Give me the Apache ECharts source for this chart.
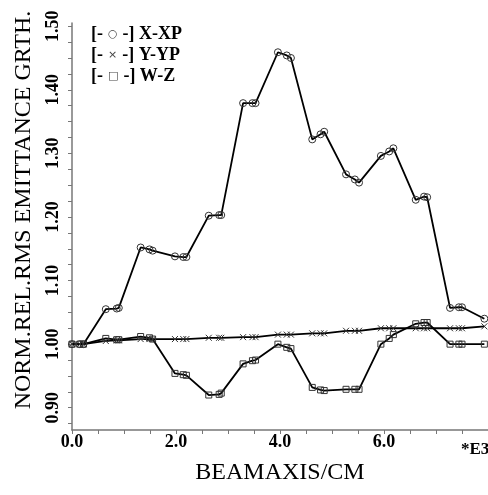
<!DOCTYPE html>
<html>
<head>
<meta charset="utf-8">
<script src="https://cdn.jsdelivr.net/npm/echarts@6/dist/echarts.min.js"></script>
<style>
    html, body { margin: 0; padding: 0; background: #fff; }
    #chart { width: 488px; height: 495px; }
</style>
</head>
<body>
<div id="chart"></div>
<script>
// beam axis positions (units of 1e3 cm)
const beamPos = [0, 0.15, 0.22, 0.65, 0.86, 0.9, 1.32, 1.49, 1.55, 1.98, 2.14, 2.2,
    2.63, 2.83, 2.87, 3.29, 3.47, 3.53, 3.96, 4.13, 4.21, 4.62, 4.78, 4.85,
    5.27, 5.44, 5.52, 5.94, 6.1, 6.18, 6.61, 6.77, 6.83, 7.27, 7.44, 7.5, 7.93];

const xxp = [1.0, 1.0, 1.0, 1.055, 1.056, 1.057, 1.152, 1.149, 1.147, 1.138, 1.137, 1.137,
    1.202, 1.203, 1.203, 1.379, 1.379, 1.379, 1.459, 1.454, 1.450, 1.322, 1.330, 1.334,
    1.267, 1.259, 1.254, 1.296, 1.303, 1.308, 1.227, 1.232, 1.231, 1.057, 1.058, 1.058, 1.040];

const yyp = [1.0, 1.0, 1.0, 1.005, 1.006, 1.006, 1.008, 1.008, 1.008, 1.008, 1.008, 1.008,
    1.010, 1.010, 1.010, 1.011, 1.011, 1.011, 1.015, 1.015, 1.015, 1.017, 1.017, 1.017,
    1.021, 1.021, 1.021, 1.025, 1.025, 1.025, 1.025, 1.025, 1.025, 1.025, 1.025, 1.025, 1.028];

const wz = [1.0, 1.0, 1.0, 1.009, 1.007, 1.007, 1.012, 1.010, 1.008, 0.954, 0.952, 0.951,
    0.920, 0.921, 0.923, 0.969, 0.974, 0.975, 1.0, 0.995, 0.993, 0.932, 0.928, 0.927,
    0.929, 0.929, 0.929, 1.0, 1.009, 1.015, 1.032, 1.034, 1.034, 1.0, 1.0, 1.0, 1.0];

const yTicks = [0.875, 0.9, 0.925, 0.95, 0.975, 1.0, 1.025, 1.05, 1.075, 1.1, 1.125, 1.15,
    1.175, 1.2, 1.225, 1.25, 1.275, 1.3, 1.325, 1.35, 1.375, 1.4, 1.425, 1.45, 1.475, 1.5];
const yLabels = [0.9, 1.0, 1.1, 1.2, 1.3, 1.4, 1.5];
const xLabels = [0, 2, 4, 6];

const legendMarks = { "X-XP": "○", "Y-YP": "×", "W-Z": "□" };

const serif = "'Liberation Serif', 'DejaVu Serif', serif";
const crossPath = "path://M0,0L10,10M10,0L0,10";

function pairs(ys) {
    return beamPos.map((x, i) => [x, ys[i]]);
}

function makeSeries(name, ys, symbol, size) {
    return {
        name: name,
        type: "line",
        data: pairs(ys),
        symbol: symbol,
        symbolSize: size,
        showAllSymbol: true,
        lineStyle: { color: "#000", width: 1.8 },
        itemStyle: { color: "transparent", borderColor: "#333", borderWidth: 1 },
        emphasis: { disabled: true }
    };
}

const chart = echarts.init(document.getElementById("chart"));
chart.setOption({
    animation: false,
    backgroundColor: "#fff",
    grid: { left: 72, right: 0, top: 23, bottom: 65 },
    legend: {
        orient: "vertical",
        left: 81,
        top: 20,
        icon: "none",
        itemWidth: 0,
        itemHeight: 0,
        itemGap: 3,
        selectedMode: false,
        data: ["X-XP", "Y-YP", "W-Z"],
        formatter: name => `{b|[-}{s|${legendMarks[name]}}{b|-] ${name}}`,
        textStyle: {
            rich: {
                b: { fontFamily: serif, fontWeight: "bold", fontSize: 18, color: "#000", lineHeight: 18 },
                s: { fontFamily: "'DejaVu Sans'", fontSize: 11, color: "#444", padding: [0, 5, 0, 5], lineHeight: 18 }
            }
        }
    },
    xAxis: {
        type: "value",
        min: 0,
        max: 8,
        interval: 0.5,
        name: "BEAMAXIS/CM",
        nameLocation: "middle",
        nameGap: 31,
        nameTextStyle: { fontFamily: serif, fontSize: 24, color: "#000" },
        splitLine: { show: false },
        axisLine: { lineStyle: { color: "#777", width: 1.5 } },
        axisTick: { length: 4, lineStyle: { color: "#777" } },
        axisLabel: {
            customValues: xLabels,
            margin: 3,
            fontFamily: serif,
            fontWeight: "bold",
            fontSize: 18,
            color: "#000",
            formatter: v => v.toFixed(1)
        }
    },
    yAxis: {
        type: "value",
        min: 0.865,
        max: 1.505,
        splitLine: { show: false },
        axisLine: { show: true, lineStyle: { color: "#777", width: 1.5 } },
        axisTick: { show: true, length: 4, customValues: yTicks, lineStyle: { color: "#777" } },
        axisLabel: {
            customValues: yLabels,
            rotate: 90,
            margin: 10,
            fontFamily: serif,
            fontWeight: "bold",
            fontSize: 18,
            color: "#000",
            formatter: v => v.toFixed(2)
        }
    },
    graphic: [
        {
            type: "text",
            x: 24,
            y: 210,
            rotation: Math.PI / 2,
            style: {
                text: "NORM.REL.RMS EMITTANCE GRTH.",
                fontFamily: serif,
                fontSize: 24,
                fill: "#000",
                align: "center",
                verticalAlign: "middle"
            }
        },
        {
            type: "text",
            x: 461,
            y: 450,
            style: {
                text: "*E3",
                fontFamily: serif,
                fontWeight: "bold",
                fontSize: 17,
                fill: "#000",
                align: "left",
                verticalAlign: "middle"
            }
        }
    ],
    series: [
        makeSeries("X-XP", xxp, "circle", 7),
        makeSeries("Y-YP", yyp, crossPath, 6),
        makeSeries("W-Z", wz, "rect", 6)
    ]
});
</script>
</body>
</html>
